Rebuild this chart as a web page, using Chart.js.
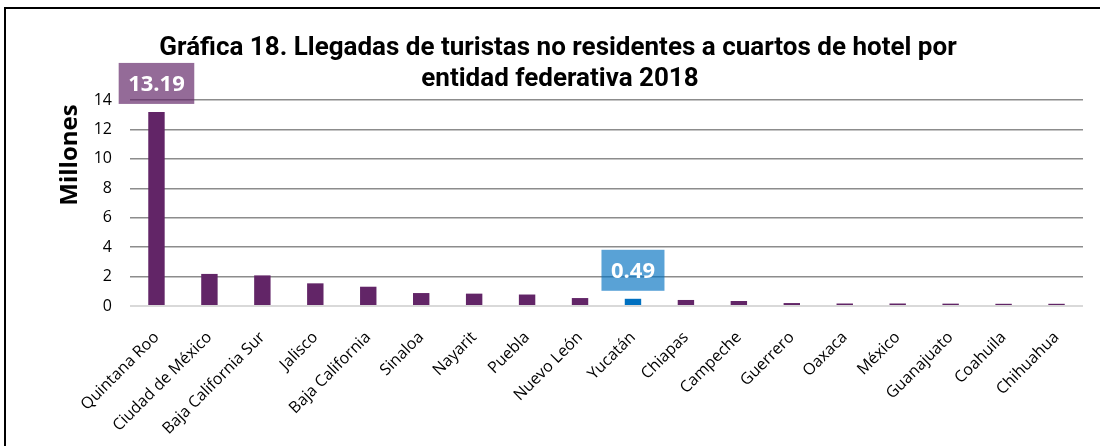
<!DOCTYPE html>
<html>
<head>
<meta charset="utf-8">
<script src="https://cdn.jsdelivr.net/npm/chart.js@4.4.1/dist/chart.umd.min.js"></script>
<style>
    html, body { margin: 0; padding: 0; background: #fff; }
    #wrap { position: relative; width: 1100px; height: 446px; overflow: hidden; }
    #frame { position: absolute; left: 4px; top: 7px; width: 1200px; height: 600px; border: 2px solid #000; box-sizing: border-box; }
    canvas { position: absolute; left: 0; top: 0; }
</style>
</head>
<body>
<div id="wrap">
    <div id="frame"></div>
    <canvas id="chart" width="1100" height="446"></canvas>
</div>
<script>
// Llegadas de turistas no residentes a cuartos de hotel, 2018 (millones)
const states = ['Quintana Roo', 'Ciudad de México', 'Baja California Sur', 'Jalisco', 'Baja California',
    'Sinaloa', 'Nayarit', 'Puebla', 'Nuevo León', 'Yucatán', 'Chiapas', 'Campeche', 'Guerrero',
    'Oaxaca', 'México', 'Guanajuato', 'Coahuila', 'Chihuahua'];
const arrivals = [13.19, 2.18, 2.08, 1.54, 1.31, 0.88, 0.84, 0.78, 0.54, 0.49, 0.41, 0.34, 0.20,
    0.17, 0.17, 0.16, 0.15, 0.15];
const yTicks = [0, 2, 4, 6, 8, 10, 12, 14];
const titleLines = ['Gráfica 18. Llegadas de turistas no residentes a cuartos de hotel por', 'entidad federativa 2018'];
const highlight = 'Yucatán';
const labelled = ['Quintana Roo', 'Yucatán'];

const PURPLE = '#622567';
const BLUE = '#0070c0';

// ─── TITLE + AXIS TITLE ───
const titles = {
    id: 'titles',
    afterDraw(chart) {
        const ctx = chart.ctx;
        ctx.save();
        ctx.fillStyle = '#000';
        ctx.textAlign = 'center';
        ctx.textBaseline = 'alphabetic';
        ctx.font = 'bold 26px Roboto, sans-serif';
        ctx.fillText(titleLines[0], 558, 55);
        ctx.fillText(titleLines[1], 560, 86);

        ctx.translate(70, 155);
        ctx.rotate(-Math.PI / 2);
        ctx.textBaseline = 'middle';
        ctx.font = 'bold 24px "Open Sans", sans-serif';
        ctx.fillText('Millones', 0, 0);
        ctx.restore();
    }
};

// ─── DATA LABEL BOXES ───
const valueLabels = {
    id: 'valueLabels',
    afterDatasetsDraw(chart) {
        const meta = chart.getDatasetMeta(0);
        const ctx = chart.ctx;
        ctx.save();
        ctx.font = 'bold 22px "Open Sans", sans-serif';
        ctx.textAlign = 'center';
        ctx.textBaseline = 'middle';
        labelled.forEach(name => {
            const i = states.indexOf(name);
            const bar = meta.data[i];
            const text = arrivals[i].toFixed(2);
            const w = ctx.measureText(text).width + 19;
            const h = 41;
            const top = bar.y - 8 - h;
            ctx.fillStyle = name === highlight ? 'rgba(0,112,192,0.65)' : 'rgba(98,37,103,0.68)';
            ctx.fillRect(bar.x - w / 2, top, w, h);
            ctx.fillStyle = '#fff';
            ctx.fillText(text, bar.x, top + h / 2 + 1);
        });
        ctx.restore();
    }
};

new Chart(document.getElementById('chart'), {
    type: 'bar',
    data: {
        labels: states,
        datasets: [{
            data: arrivals,
            backgroundColor: states.map(s => s === highlight ? BLUE : PURPLE),
            categoryPercentage: 1,
            barPercentage: 0.31
        }]
    },
    options: {
        responsive: false,
        animation: false,
        layout: { padding: { top: 100, right: 17, left: 0, bottom: 0 } },
        plugins: {
            legend: { display: false },
            tooltip: { enabled: false }
        },
        scales: {
            x: {
                grid: { display: false },
                border: { display: false },
                ticks: {
                    color: '#000',
                    minRotation: 45,
                    maxRotation: 45,
                    padding: 14,
                    font: { family: 'Open Sans', size: 16 }
                },
                afterFit(scale) { scale.height = 140; }
            },
            y: {
                min: 0,
                max: 14,
                afterBuildTicks(scale) { scale.ticks = yTicks.map(v => ({ value: v })); },
                grid: {
                    drawTicks: false,
                    color: ctx => ctx.tick.value === 0 ? '#d9d9d9' : '#8c8c8c',
                    lineWidth: ctx => ctx.tick.value === 0 ? 2 : 1.5
                },
                border: { display: false },
                ticks: {
                    color: '#000',
                    padding: 18,
                    font: { family: 'Open Sans', size: 16 }
                },
                afterFit(scale) { scale.width = 130; }
            }
        }
    },
    plugins: [titles, valueLabels]
});
</script>
</body>
</html>
